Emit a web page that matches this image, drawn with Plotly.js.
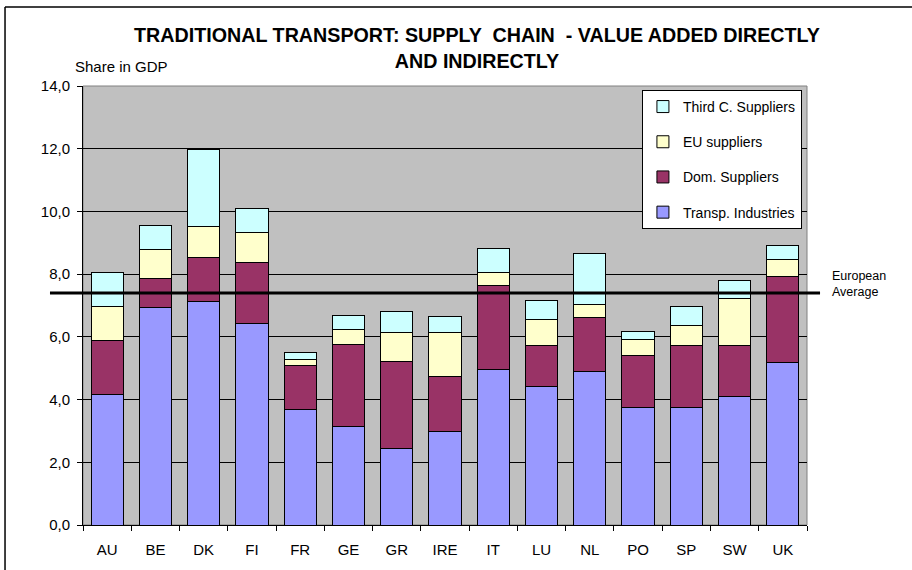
<!DOCTYPE html>
<html>
<head>
<meta charset="utf-8">
<script src="https://cdn.plot.ly/plotly-3.0.1.min.js"></script>
<style>html,body{margin:0;padding:0;background:#fff;}#chart{width:912px;height:570px;}</style>
</head>
<body>
<div id="chart"></div>
<script>
var categories = ["AU","BE","DK","FI","FR","GE","GR","IRE","IT","LU","NL","PO","SP","SW","UK"];
var transpIndustries = [4.15,6.94,7.12,6.43,3.69,3.13,2.43,2.99,4.97,4.43,4.89,3.76,3.74,4.10,5.18];
var domSuppliers     = [1.73,0.92,1.42,1.95,1.39,2.63,2.77,1.75,2.66,1.30,1.74,1.65,1.98,1.62,2.75];
var euSuppliers      = [1.10,0.93,0.99,0.95,0.21,0.47,0.93,1.41,0.42,0.83,0.41,0.51,0.64,1.50,0.55];
var thirdSuppliers   = [1.07,0.77,2.43,0.76,0.22,0.46,0.67,0.51,0.77,0.59,1.62,0.24,0.61,0.58,0.44];
var europeanAverage = 7.4;
var yTickVals = [0,2,4,6,8,10,12,14];
var yTickText = ["0,0","2,0","4,0","6,0","8,0","10,0","12,0","14,0"];

var FONT = "Liberation Sans, Arial, sans-serif";
function bar(name, vals, color, grp, rank){
  return {type:"bar", name:name, x:categories, y:vals, width:0.667, legendgroup:grp, legendrank:rank,
    marker:{color:color, line:{color:"#000", width:1}}, hoverinfo:"y+name"};
}
var data = [
  bar("Transp. Industries", transpIndustries, "#9999FF", "a", 4),
  bar("Dom. Suppliers", domSuppliers, "#993366", "b", 3),
  bar("EU suppliers", euSuppliers, "#FFFFCC", "c", 2),
  bar("Third C. Suppliers", thirdSuppliers, "#CCFFFF", "d", 1)
];
var layout = {
  width:912, height:570,
  margin:{l:83, r:105, t:86, b:45},
  paper_bgcolor:"#fff", plot_bgcolor:"#C0C0C0",
  barmode:"stack", bargap:0.333,
  font:{family:FONT, size:15, color:"#000"},
  title:{text:"<b>TRADITIONAL TRANSPORT: SUPPLY &nbsp;CHAIN &nbsp;- VALUE ADDED DIRECTLY<br>AND INDIRECTLY</b>",
    font:{family:FONT, size:19.7, color:"#000"}, x:0.5442, xanchor:"center", xref:"paper",
    y:0.926, yref:"container", yanchor:"top"},
  xaxis:{type:"category", range:[-0.5,14.5], showgrid:false, ticks:"outside", ticklen:5, tickcolor:"#000",
    tickson:"boundaries", showline:true, linecolor:"#000", linewidth:1, ticklabelstandoff:11,
    tickfont:{family:FONT, size:15, color:"#000"}, fixedrange:true},
  yaxis:{range:[0,14], tickvals:yTickVals, ticktext:yTickText, showgrid:true, gridcolor:"#000", gridwidth:1,
    ticks:"outside", ticklen:5, tickcolor:"#000", showline:true, linecolor:"#000", linewidth:1,
    zeroline:false, tickfont:{family:FONT, size:15, color:"#000"}, ticklabelstandoff:4, fixedrange:true},
  legend:{x:0.772, y:0.991, xanchor:"left", yanchor:"top", traceorder:"grouped",
    bgcolor:"#fff", bordercolor:"#000", borderwidth:1, tracegroupgap:14,
    font:{family:FONT, size:14, color:"#000"}},
  shapes:[
    {type:"rect", xref:"paper", yref:"paper", x0:0, x1:1, y0:0, y1:1, line:{color:"#808080", width:1}, layer:"below"},
    {type:"line", xref:"paper", yref:"y", x0:-0.0456, x1:1.018, y0:europeanAverage, y1:europeanAverage,
      line:{color:"#000", width:3}, layer:"above"},
    {type:"line", xref:"paper", yref:"paper", x0:-0.1077, x1:1.2, y0:1.18, y1:1.18,
      line:{color:"#000", width:1.5}, layer:"above"},
    {type:"line", xref:"paper", yref:"paper", x0:-0.1077, x1:-0.1077, y0:-0.2, y1:1.18,
      line:{color:"#000", width:1.5}, layer:"above"}
  ],
  annotations:[
    {text:"Share in GDP", xref:"paper", yref:"paper", x:-0.0138, y:1.0433, xanchor:"left", yanchor:"middle",
      showarrow:false, font:{family:FONT, size:15, color:"#000"}},
    {text:"European<br>Average", xref:"paper", yref:"y", x:1.032, y:europeanAverage, yshift:9, xanchor:"left", yanchor:"middle",
      align:"left", showarrow:false, font:{family:FONT, size:12.5, color:"#000"}}
  ]
};
Plotly.newPlot("chart", data, layout, {displayModeBar:false, staticPlot:true});
</script>
</body>
</html>
